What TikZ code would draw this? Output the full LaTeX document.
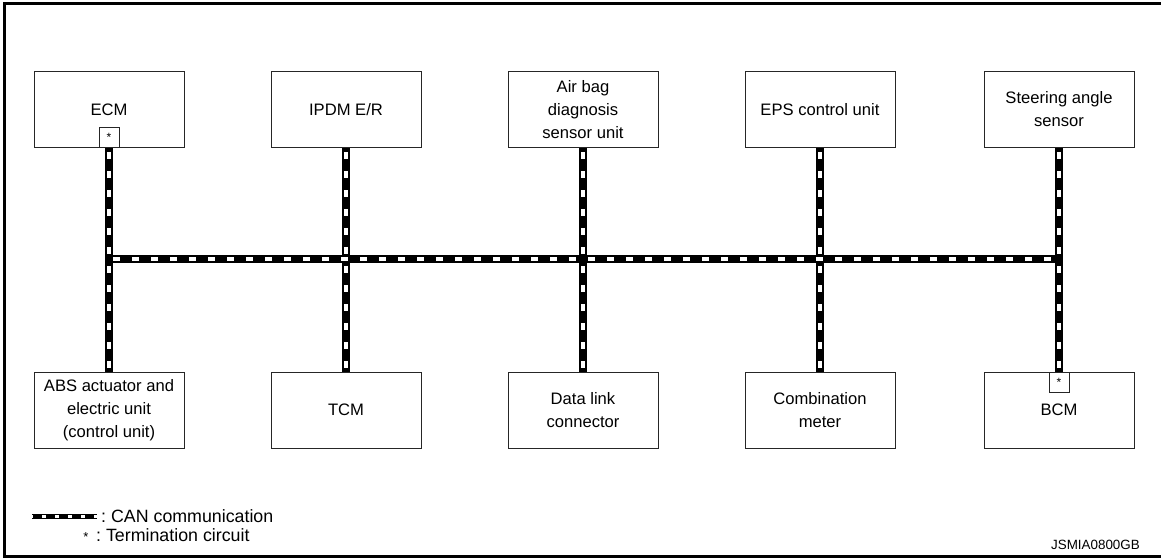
\documentclass[tikz,border=0pt]{standalone}
\usepackage{fontspec}
\setmainfont{Liberation Sans}
\begin{document}
\begin{tikzpicture}[x=1pt,y=-1pt,
  unit/.style={draw=black!85, line width=1pt, minimum width=150pt, minimum height=76pt, align=center, inner sep=2pt, font=\fontsize{16.6}{23}\selectfont},
  term/.style={draw=black!85, fill=white, line width=1pt, minimum width=20pt, minimum height=20pt, inner sep=0pt, font=\fontsize{12}{12}\selectfont},
  can/.style={line width=7.6pt, draw=black, postaction={draw=white, line width=3.8pt, dash pattern=on 6.5pt off 12.5pt, dash phase=-4pt}},
  canlegend/.style={line width=5pt, draw=black, postaction={draw=white, line width=3pt, dash pattern=on 4pt off 9pt, dash phase=-10pt}},
  legtext/.style={anchor=west, inner sep=0pt, font=\fontsize{17.8}{17.8}\selectfont},
  frame/.style={line width=3pt, draw=black}]
\useasboundingbox (0,0) rectangle (1161,558);
% frame
\draw[frame] (1161,3.5) -- (4.5,3.5) -- (4.5,556) -- (1161,556);
% top units
\node[unit] (ecm)   at (109,109.5) {ECM};
\node[unit] (ipdm)  at (346,109.5) {IPDM E/R};
\node[unit] (airbag) at (583,109.5) {Air bag\\diagnosis\\sensor unit};
\node[unit] (eps)   at (820,109.5) {EPS control unit};
\node[unit] (steer) at (1059,109.5) {Steering angle\\sensor};
% bottom units
\node[unit] (abs)   at (109,410) {ABS actuator and\\electric unit\\(control unit)};
\node[unit] (tcm)   at (346,410) {TCM};
\node[unit] (dlc)   at (583,410) {Data link\\connector};
\node[unit] (meter) at (820,410) {Combination\\meter};
\node[unit] (bcm)   at (1059,410) {BCM};
% termination circuits
\node[term, anchor=south] (ecmT) at (ecm.south) {*};
\node[term, anchor=north] (bcmT) at (bcm.north) {*};
% bus ends
\coordinate (busL) at (109,259);
\coordinate (busR) at (1059,259);
% stubs
\draw[can] (ecmT.south) -- (abs.north);
\draw[can] (ipdm.south) -- (tcm.north);
\draw[can] (airbag.south) -- (dlc.north);
\draw[can] (eps.south) -- (meter.north);
\draw[can] (steer.south) -- (bcmT.north);
% main bus
\draw[can] (busL) -- (busR);
% legend
\coordinate (legA) at (32,516);
\coordinate (legB) at (97,516);
\draw[canlegend] (legA) -- (legB);
\node[legtext] (legcan) at (101,516) {:\ CAN communication};
\node[inner sep=0pt, font=\fontsize{13}{13}\selectfont] (legstar) at (86,537) {*};
\node[legtext] (legterm) at (96,535) {:\ Termination circuit};
% code
\node[anchor=east, inner sep=0pt, font=\fontsize{13.4}{13.4}\selectfont] (code) at (1140,545) {JSMIA0800GB};
\end{tikzpicture}
\end{document}
